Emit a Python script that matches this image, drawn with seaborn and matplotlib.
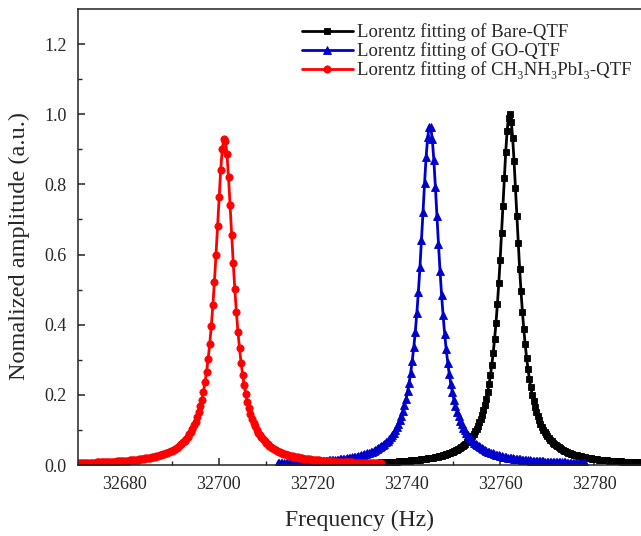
import numpy as np
import pandas as pd
import matplotlib
matplotlib.use("Agg")
import matplotlib.pyplot as plt
import seaborn as sns

# ---- data (Lorentz fit parameters) ----
series_labels = [
    "Lorentz fitting of Bare-QTF",
    "Lorentz fitting of GO-QTF",
    "Lorentz fitting of CH\u2083NH\u2083PbI\u2083-QTF",
]
center_hz = [32762.0, 32745.0, 32701.2]
peak_amp = [1.0, 0.968, 0.932]
fwhm_hz = [4.8, 5.0, 4.8]
start_hz = [32734.5, 32712.6, 32668.0]
stop_hz = [32790.5, 32778.1, 32734.5]
n_points = [190, 200, 200]

x_ticks = [32680, 32700, 32720, 32740, 32760, 32780]
y_ticks = [0.0, 0.2, 0.4, 0.6, 0.8, 1.0, 1.2]

colors = ["#000000", "#0000CC", "#FF0000"]
markers = ["s", "^", "o"]
msizes = [4.8, 5.6, 5.2]

frames = []
for lab, c, a, w, s, e, n in zip(series_labels, center_hz, peak_amp, fwhm_hz,
                                 start_hz, stop_hz, n_points):
    f = np.linspace(s, e, n)
    amp = a / (1.0 + (2.0 * (f - c) / w) ** 2)
    frames.append(pd.DataFrame({"freq": f, "amp": amp, "series": lab}))
df = pd.concat(frames, ignore_index=True)

sns.set_theme(style="ticks")
plt.rcParams["font.family"] = ["Liberation Serif", "DejaVu Serif"]

fig = plt.figure(figsize=(6.41, 5.36), dpi=100)
ax = fig.add_axes([78 / 641, 71 / 536, (641 - 78) / 641, (465 - 9) / 536])

for lab, col, mk, ms in zip(series_labels, colors, markers, msizes):
    sub = df[df["series"] == lab]
    sns.lineplot(data=sub, x="freq", y="amp", ax=ax, color=col, marker=mk,
                 markersize=ms, markeredgecolor=col, markeredgewidth=0.6,
                 linewidth=2.0, label=lab, sort=False, estimator=None)

ax.set_xlim(32670, 32790)
ax.set_ylim(0, 1.3)
ax.set_xticks(x_ticks)
ax.set_xticklabels([str(t) for t in x_ticks])
ax.set_yticks(y_ticks)
ax.set_yticklabels([f"{t:.1f}" for t in y_ticks])
ax.set_xticks(np.arange(32670, 32791, 10), minor=True)
ax.set_yticks(np.arange(0.1, 1.3, 0.2), minor=True)

ax.tick_params(axis="both", which="major", direction="in", length=5, width=1.1,
               labelsize=13, pad=8, color="#222222")
ax.tick_params(axis="both", which="minor", direction="in", length=3, width=1.0,
               color="#222222")
ax.tick_params(axis="x", which="both", top=False)
ax.tick_params(axis="y", which="both", right=False)

for sp in ["left", "bottom", "top"]:
    ax.spines[sp].set_linewidth(1.1)
    ax.spines[sp].set_color("#222222")
ax.spines["right"].set_visible(False)

ax.set_xlabel("Frequency (Hz)", fontsize=17, labelpad=12)
ax.set_ylabel("Nomalized amplitude (a.u.)", fontsize=17.5)
ax.yaxis.set_label_coords(-0.085, 0.48)

leg = ax.legend(loc="upper left", bbox_to_anchor=(0.398, 0.968), frameon=False,
                fontsize=13.5, handlelength=2.7, handletextpad=0.25,
                labelspacing=0.05, borderaxespad=0.0, borderpad=0.0)

fig.savefig("out.png", dpi=100)
